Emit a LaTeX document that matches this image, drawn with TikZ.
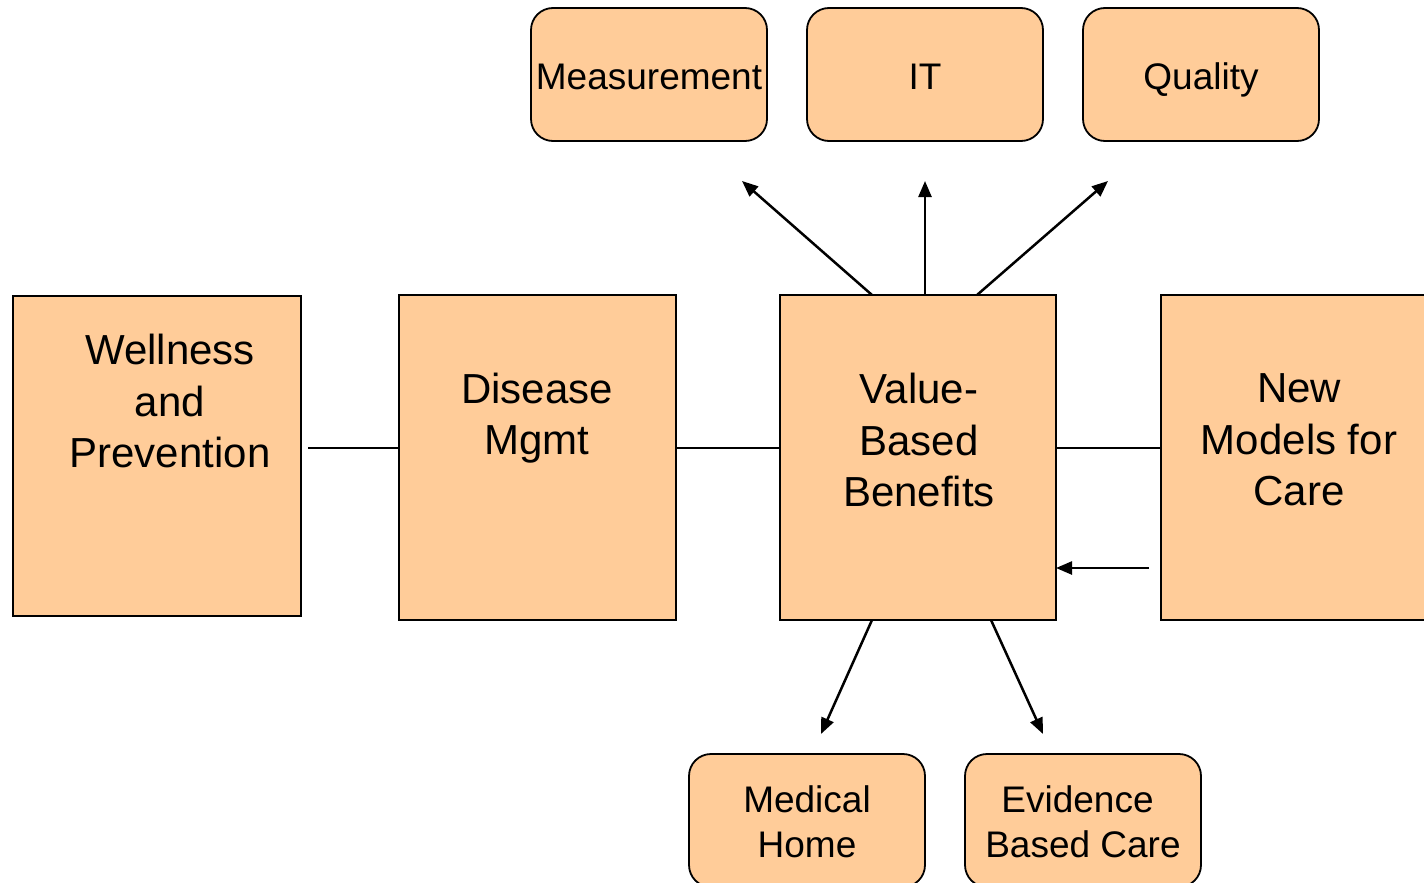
\documentclass[tikz,border=0pt]{standalone}
\usepackage{fontspec}
\setmainfont{Liberation Sans}
\usetikzlibrary{arrows.meta,calc}
\definecolor{boxfill}{HTML}{FFCC99}
\tikzset{
  bigbox/.style={draw=black, fill=boxfill, line width=2pt, inner sep=0pt, outer sep=0pt, anchor=north west},
  smallbox/.style={draw=black, fill=boxfill, line width=1.8pt, rounded corners=22pt, inner sep=0pt, outer sep=0pt, anchor=north west, minimum width=236pt, minimum height=133pt},
  bigtext/.style={align=center, font=\fontsize{42}{51.5}\selectfont, inner sep=0pt},
  smalltext/.style={align=center, font=\fontsize{37}{45}\selectfont, inner sep=0pt},
  link/.style={line width=2pt},
  arr/.style={line width=2.5pt, -{Triangle[length=16pt,width=13pt]}}
}
\begin{document}
\begin{tikzpicture}[x=1pt,y=-1pt]
\useasboundingbox (0,0) rectangle (1424,883);
\clip (0,0) rectangle (1424,883);

% main row of square boxes
\node[bigbox, minimum width=288pt, minimum height=320pt] (well) at (13,296) {};
\node[bigbox, minimum width=277pt, minimum height=325pt] (dis) at (399,295) {};
\node[bigbox, minimum width=276pt, minimum height=325pt] (val) at (780,295) {};
\node[bigbox, minimum width=300pt, minimum height=325pt] (new) at (1161,295) {};

\node[bigtext] (wellT) at (170,401) {Wellness\\and\\Prevention};
\node[bigtext] (disT) at (537,418) {Disease\\Mgmt};
\node[bigtext] (valT) at (919,440) {Value-\\Based\\Benefits};
\node[bigtext] (newT) at (1299,440) {New\\Models for\\Care};

% top row of rounded boxes
\node[smallbox] (meas) at (531,8) {};
\node[smallbox] (it) at (807,8) {};
\node[smallbox] (qual) at (1083,8) {};
\node[smalltext, anchor=base] (measT) at (meas.center |- 0,89.5) {Measurement};
\node[smalltext, anchor=base] (itT) at (it.center |- 0,89.5) {IT};
\node[smalltext, anchor=base] (qualT) at (qual.center |- 0,89.5) {Quality};

% bottom row of rounded boxes
\node[smallbox] (med) at (689,754) {};
\node[smallbox] (evid) at (965,754) {};
\node[smalltext] (medT) at (807,822) {Medical\\Home};
\node[smalltext] (evidT) at (1083,822) {Evidence\hspace*{11pt}\\Based Care};

% free ends of the arrows
\coordinate (toMeas) at (742,181);
\coordinate (toIT) at (925,181);
\coordinate (toQual) at (1108,181);
\coordinate (toMed) at (821,734);
\coordinate (toEvid) at (1043,734);
\coordinate (fromNew) at (1149,568);

% links between the main boxes
\draw[link] ([xshift=7pt]well.east |- 0,448) -- (dis.west |- 0,448);
\draw[link] (dis.east |- 0,448) -- (val.west |- 0,448);
\draw[link] (val.east |- 0,448) -- (new.west |- 0,448);

% arrows
\draw[arr] ([xshift=92pt]val.north west) -- (toMeas);
\draw[arr] ([xshift=145pt]val.north west) -- (toIT);
\draw[arr] ([xshift=197pt]val.north west) -- (toQual);
\draw[arr] ([xshift=92pt]val.south west) -- (toMed);
\draw[arr] ([xshift=211pt]val.south west) -- (toEvid);
\draw[arr] (fromNew) -- (val.east |- fromNew);
\end{tikzpicture}
\end{document}
